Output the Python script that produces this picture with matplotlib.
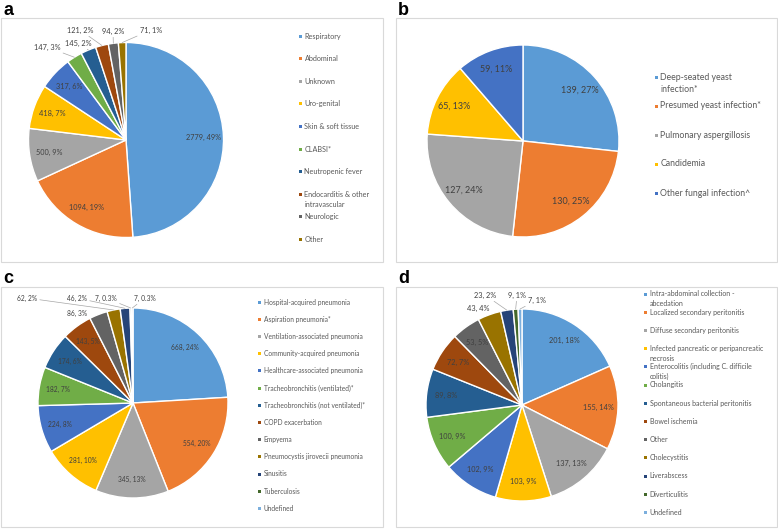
import numpy as np
import matplotlib
matplotlib.use('Agg')
import matplotlib.pyplot as plt
from matplotlib.patches import Rectangle

plt.rcParams['font.family'] = ['Lato', 'DejaVu Sans']

W, H = 778, 530

# office style palette
colors = ['#5B9BD5', '#ED7D31', '#A5A5A5', '#FFC000', '#4472C4', '#70AD47',
          '#255E91', '#9E480E', '#636363', '#997300', '#264478', '#43682B', '#7CAFDD']

# ---- data ----
a_labels = ['Respiratory', 'Abdominal', 'Unknown', 'Uro-genital', 'Skin & soft tissue',
            'CLABSI*', 'Neutropenic fever', 'Endocarditis & other\nintravascular',
            'Neurologic', 'Other']
a_values = [2779, 1094, 500, 418, 317, 147, 145, 121, 94, 71]
a_pct = ['49%', '19%', '9%', '7%', '6%', '3%', '2%', '2%', '2%', '1%']

b_labels = ['Deep-seated yeast\ninfection*', 'Presumed yeast infection*',
            'Pulmonary aspergillosis', 'Candidemia', 'Other fungal infection^']
b_values = [139, 130, 127, 65, 59]
b_pct = ['27%', '25%', '24%', '13%', '11%']

c_labels = ['Hospital-acquired pneumonia', 'Aspiration pneumonia*',
            'Ventilation-associated pneumonia', 'Community-acquired pneumonia',
            'Healthcare-associated pneumonia', 'Tracheobronchitis (ventilated)*',
            'Tracheobronchitis (not ventilated)*', 'COPD exacerbation', 'Empyema',
            'Pneumocystis jirovecii pneumonia', 'Sinusitis', 'Tuberculosis', 'Undefined']
c_values = [668, 554, 345, 281, 224, 182, 174, 143, 86, 62, 46, 7, 7]
c_pct = ['24%', '20%', '13%', '10%', '8%', '7%', '6%', '5%', '3%', '2%', '2%', '0.3%', '0.3%']

d_labels = ['Intra-abdominal collection -\nabcedation', 'Localized secondary peritonitis',
            'Diffuse secondary peritonitis', 'Infected pancreatic or peripancreatic\nnecrosis',
            'Enterocolitis (including C. difficile\ncolitis)', 'Cholangitis',
            'Spontaneous bacterial peritonitis', 'Bowel ischemia', 'Other', 'Cholecystitis',
            'Liverabscess', 'Diverticulitis', 'Undefined']
d_values = [201, 155, 137, 103, 102, 100, 89, 72, 53, 43, 23, 9, 7]
d_pct = ['18%', '14%', '13%', '9%', '9%', '9%', '8%', '7%', '5%', '4%', '2%', '1%', '1%']

# ---- layout (pixels) ----
panels = [
    dict(letter='a', lxy=(3, 15), box=(1, 18, 383, 262), center=(126, 140), r=97.5,
         leg=(300, 36, 22.6, 10), lfs=5.2, dfs=5.3,
         out={5: (47, 47, True), 6: (78, 43, True), 7: (80, 30, True),
              8: (113, 31, True), 9: (151, 30, True)},
         labels=a_labels, values=a_values, pct=a_pct),
    dict(letter='b', lxy=(398, 15), box=(396, 18, 777, 262), center=(523, 141), r=96,
         leg=(656, 77, 29, 13), lfs=6.3, dfs=6.5, out={},
         labels=b_labels, values=b_values, pct=b_pct),
    dict(letter='c', lxy=(3, 283), box=(1, 287, 383, 527), center=(133, 403), r=95,
         leg=(259, 302, 17.2, 10), lfs=4.8, dfs=4.8,
         out={8: (77, 313, False), 9: (27, 298, True), 10: (77, 298, True),
              11: (106, 298, True), 12: (145, 298, True)},
         labels=c_labels, values=c_values, pct=c_pct),
    dict(letter='d', lxy=(398, 283), box=(396, 287, 777, 527), center=(522, 405), r=96,
         leg=(645, 294, 18.2, 10), lfs=5.0, dfs=5.3,
         out={9: (478, 308, False), 10: (485, 295, True), 11: (517, 295, True),
              12: (537, 300, True)},
         labels=d_labels, values=d_values, pct=d_pct),
]


def fx(x):
    return x / W


def fy(y):
    return 1 - y / H


fig = plt.figure(figsize=(W / 100, H / 100), dpi=100)

for p in panels:
    x0, y0, x1, y1 = p['box']
    fig.patches.append(Rectangle((fx(x0), fy(y1)), fx(x1 - x0), (y1 - y0) / H,
                                 transform=fig.transFigure, fill=False,
                                 edgecolor='#D9D9D9', lw=0.8))
    fig.text(fx(p['lxy'][0]), fy(p['lxy'][1]), p['letter'], family='Liberation Sans',
             fontweight='bold', fontsize=13, va='baseline', ha='left')

    cx, cy = p['center']
    r = p['r']
    ax = fig.add_axes([fx(cx - 1.25 * r), fy(cy + 1.25 * r), 2.5 * r / W, 2.5 * r / H])
    n = len(p['values'])
    wedges, _ = ax.pie(p['values'], colors=colors[:n], startangle=90, counterclock=False,
                       wedgeprops=dict(edgecolor='white', linewidth=1))
    ax.set_xlim(-1.25, 1.25)
    ax.set_ylim(-1.25, 1.25)
    ax.axis('off')

    for i, w in enumerate(wedges):
        ang = np.deg2rad((w.theta1 + w.theta2) / 2)
        txt = '%d, %s' % (p['values'][i], p['pct'][i])
        if i in p['out']:
            tx, ty, lead = p['out'][i]
            ap = dict(arrowstyle='-', color='#A6A6A6', lw=0.5, shrinkA=0, shrinkB=0) if lead else None
            ax.annotate(txt, xy=(np.cos(ang), np.sin(ang)), xytext=(fx(tx), fy(ty)),
                        textcoords='figure fraction', ha='center', va='center',
                        fontsize=p['dfs'], color='#404040', arrowprops=ap,
                        annotation_clip=False)
        else:
            ax.text(0.8 * np.cos(ang), 0.8 * np.sin(ang), txt, ha='center', va='center',
                    fontsize=p['dfs'], color='#404040')

    # legend, one line of text at a time so the first line sits by the marker
    mx, ly0, step, lstep = p['leg']
    for k, lab in enumerate(p['labels']):
        ly = ly0 + k * step
        fig.patches.append(Rectangle((fx(mx - 1.5), fy(ly + 1.5)), 3 / W, 3 / H,
                                     transform=fig.transFigure, color=colors[k], lw=0))
        for j, line in enumerate(lab.split('\n')):
            fig.text(fx(mx + 4.5), fy(ly + 2.5 + j * lstep), line, fontsize=p['lfs'],
                     color='#595959', va='baseline', ha='left')

fig.savefig('out.png', dpi=100)
